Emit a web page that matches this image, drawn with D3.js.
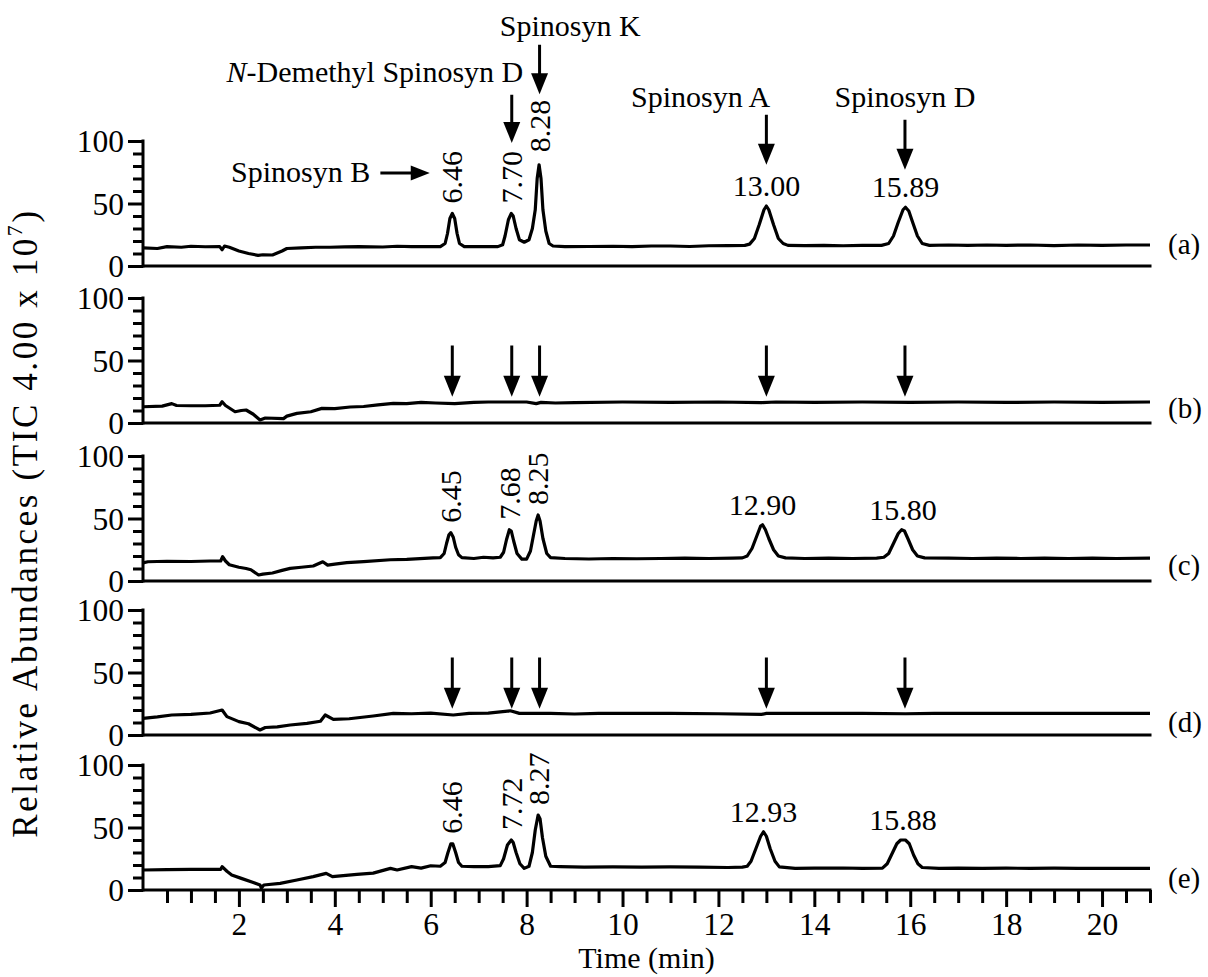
<!DOCTYPE html>
<html><head><meta charset="utf-8">
<script src="https://cdn.jsdelivr.net/npm/d3@7"></script>
<style>
body{margin:0;background:#fff}
text{font-family:"Liberation Serif","Times New Roman","DejaVu Serif",serif;fill:#000}
</style></head>
<body><svg id="chart" width="1208" height="977"></svg>
<script>
// ---------------- DATA ----------------
const panelNames = ["(a)", "(b)", "(c)", "(d)", "(e)"];
const xMajorTicks = [2, 4, 6, 8, 10, 12, 14, 16, 18, 20];
const yMajorTicks = [0, 50, 100];
const yMinorTicks = [10, 20, 30, 40, 60, 70, 80, 90];
const xTitle = "Time (min)";
const yTitle = "Relative Abundances (TIC 4.00 x 10";
const yTitleExp = "7";

// [time (min), relative abundance]
const traceA = [[0,14.5],[0.3,14],[0.5,15.5],[0.8,15],[1.0,15.8],[1.3,15.4],[1.6,15.5],[1.65,13],[1.7,16],[1.8,15],[2.0,12],[2.2,10],[2.4,8.5],[2.5,9],[2.7,8.8],[2.9,12],[3.0,14],[3.3,14.5],[3.6,15],[3.9,15],[4.2,15.3],[4.5,15.5],[5.0,15.2],[5.3,15.8],[5.6,15.5],[6.0,15.5],[6.2,15.5],[6.3,18],[6.35,26],[6.4,38],[6.45,42],[6.5,38],[6.55,26],[6.6,18],[6.7,15.5],[6.9,15.5],[7.2,15.5],[7.4,15.5],[7.5,17],[7.55,24],[7.62,37],[7.68,42],[7.72,40],[7.78,30],[7.85,21],[7.95,19],[8.05,21],[8.12,30],[8.18,45],[8.22,70],[8.26,81],[8.3,70],[8.34,45],[8.4,28],[8.47,18],[8.55,16],[8.8,15.5],[9.3,15.6],[9.8,15.8],[10.2,15.5],[10.6,16],[11.0,16],[11.4,15.6],[11.8,16.2],[12.2,16.3],[12.55,16.5],[12.65,17.5],[12.75,22],[12.85,33],[12.95,45],[13.0,48],[13.05,45],[13.15,33],[13.25,22],[13.35,18],[13.45,16.5],[13.8,16.3],[14.2,16.5],[14.6,16.2],[15.0,16.5],[15.4,16.5],[15.55,18],[15.65,24],[15.75,35],[15.85,45],[15.9,47],[15.97,44],[16.05,35],[16.15,24],[16.25,18],[16.4,16.5],[16.8,16.8],[17.2,16.5],[17.6,16.8],[18.0,16.5],[18.5,16.8],[19.0,16.3],[19.5,16.8],[20.0,16.5],[20.5,16.8],[21.0,16.8]];
const traceB = [[0,13],[0.4,13.5],[0.6,15.5],[0.7,14],[1.0,13.8],[1.3,13.8],[1.6,14.2],[1.65,17],[1.72,14],[1.8,12],[1.92,9],[2.05,10],[2.15,10.4],[2.3,7],[2.44,2.4],[2.55,4],[2.93,3.5],[3.0,5.5],[3.21,7.7],[3.5,9],[3.73,11.7],[4.0,11.5],[4.32,12.8],[4.6,13.2],[4.9,14.5],[5.22,15.7],[5.5,15.5],[5.8,16.5],[6.1,16],[6.5,15.5],[6.9,16.5],[7.2,16.8],[8.0,16.8],[8.2,15.5],[8.3,16.5],[8.6,16],[9.0,16.3],[10.0,16.8],[11.0,16.5],[12.0,16.8],[12.9,16.3],[13.2,16.8],[14.0,16.5],[15.0,16.8],[16.0,16.5],[17.0,16.8],[18.0,16.5],[19.0,16.8],[20.0,16.5],[21.0,16.8]];
const traceC = [[0,14.5],[0.1,15.4],[0.5,15.8],[1.0,15.6],[1.4,16],[1.62,16],[1.66,19.4],[1.72,16],[1.8,13],[2.0,11],[2.15,10],[2.25,9],[2.41,4.8],[2.5,5.5],[2.7,6.4],[2.9,8.5],[3.07,10.1],[3.3,11],[3.55,12],[3.75,15.4],[3.85,12.7],[4.0,13.5],[4.25,14.7],[4.6,15.5],[5.16,17],[5.5,17.3],[6.05,18.5],[6.2,18.7],[6.28,22],[6.33,30],[6.38,37],[6.42,38.7],[6.47,35],[6.52,27],[6.58,21],[6.65,18.7],[6.9,18],[7.1,19],[7.3,18.5],[7.45,19],[7.52,23],[7.58,33],[7.64,41],[7.68,40],[7.73,32],[7.8,22],[7.9,17.5],[8.0,17.5],[8.08,24],[8.14,36],[8.2,48],[8.24,52.8],[8.28,48],[8.34,34],[8.42,22],[8.5,18.7],[8.8,18],[9.3,17.6],[9.8,18],[10.3,17.8],[10.8,18],[11.3,18.3],[11.8,18],[12.3,18.3],[12.5,18.5],[12.6,20],[12.7,26],[12.8,36],[12.88,44],[12.92,45],[12.98,41],[13.05,34],[13.15,25],[13.25,20],[13.4,18.5],[13.8,18],[14.3,18.3],[14.8,18],[15.3,18.3],[15.45,19],[15.55,22],[15.65,30],[15.75,38],[15.82,41],[15.88,40],[15.95,34],[16.05,25],[16.15,20],[16.3,18.5],[16.8,18.3],[17.3,18],[17.8,18.3],[18.3,18],[18.8,18.3],[19.3,18],[19.8,18.3],[20.3,18],[21.0,18.3]];
const traceD = [[0,13.3],[0.3,14.5],[0.6,16],[1.0,16.5],[1.4,17.6],[1.65,20],[1.75,14.7],[2.0,10.7],[2.2,9],[2.44,4],[2.55,6],[2.8,6.5],[3.07,8],[3.42,9.3],[3.7,11],[3.8,16],[3.97,12.5],[4.3,13],[4.8,15.2],[5.22,17.3],[5.6,17],[6.0,17.5],[6.47,16],[6.8,17.3],[7.2,17.5],[7.66,19.4],[7.85,17.3],[8.5,17.3],[9.0,16.8],[9.5,17.3],[10.0,17.3],[11.0,17.3],[12.0,17],[12.9,16.5],[13.0,17.3],[14.0,17.3],[15.0,17.3],[15.9,17],[16.5,17.3],[17.0,17.3],[18.0,17.3],[19.0,17.3],[20.0,17.3],[21.0,17.3]];
const traceE = [[0,16],[0.5,16.3],[1.0,16.5],[1.62,16.5],[1.65,18.7],[1.75,15],[1.85,12],[2.05,9.3],[2.3,6],[2.44,4],[2.47,1.6],[2.52,4],[2.86,5.3],[3.21,8],[3.55,10.7],[3.82,13.3],[3.95,10.7],[4.46,12.5],[4.8,13.5],[5.16,17.3],[5.3,16],[5.6,18.7],[5.8,17.5],[6.0,19.4],[6.2,19],[6.3,22],[6.36,30],[6.42,37],[6.46,37],[6.52,30],[6.58,22],[6.65,19],[6.9,18.7],[7.2,18.7],[7.45,19.5],[7.52,25],[7.6,36],[7.68,40],[7.72,38],[7.78,30],[7.86,21],[7.95,17.3],[8.05,19],[8.12,30],[8.18,48],[8.24,60],[8.28,57],[8.33,42],[8.4,27],[8.5,19],[8.7,18.7],[9.2,18.3],[9.8,18.5],[10.4,18.3],[11.0,18.5],[11.6,18.3],[12.2,18],[12.5,18.3],[12.6,19],[12.68,23],[12.78,33],[12.88,43],[12.94,46.6],[13.0,43],[13.08,33],[13.18,23],[13.27,18.5],[13.6,17.3],[14.0,17.5],[14.6,17.6],[15.0,17.3],[15.42,17.5],[15.52,21],[15.62,29],[15.72,37],[15.8,40],[15.9,40],[15.98,37],[16.07,28],[16.16,21],[16.25,18],[16.6,17.3],[17.0,17.5],[17.5,17.3],[18.0,17.5],[18.5,17.3],[19.0,17.5],[19.5,17.3],[20.0,17.3],[21.0,17.3]];
const traces = [traceA, traceB, traceC, traceD, traceE];

// peak labels: [time, peak height, text, rotated]
const labelsA = [[6.45, 42, "6.46", true], [7.69, 42, "7.70", true], [8.27, 83, "8.28", true], [13.0, 48, "13.00", false], [15.9, 47, "15.89", false]];
const labelsC = [[6.42, 38.7, "6.45", true], [7.66, 41, "7.68", true], [8.24, 52.8, "8.25", true], [12.92, 45, "12.90", false], [15.85, 41, "15.80", false]];
const labelsE = [[6.44, 37, "6.46", true], [7.69, 40, "7.72", true], [8.25, 60, "8.27", true], [12.94, 46.6, "12.93", false], [15.85, 40, "15.88", false]];
const peakLabels = [labelsA, [], labelsC, [], labelsE];

// compound names and their retention-time markers
const compoundNames = ["Spinosyn B", "N-Demethyl Spinosyn D", "Spinosyn K", "Spinosyn A", "Spinosyn D"];
const compoundTimes = [6.45, 7.69, 8.27, 13.0, 15.89];
const missingPanels = [1, 3];   // (b) and (d): arrows only

// ---------------- LAYOUT ----------------
const svg = d3.select("#chart");
const panelZero = [266, 423, 581, 735, 890];
const panelLabelOffset = [22, 15, 16, 13, 12];
const panelH = 125;
const x = d3.scaleLinear().domain([0, 21]).range([143, 1150]);
const FS = 30, TFS = 31.5;

const line = d3.line().x(d => x(d[0]));

function arrowDown(g, px, y1, y2) {
  const hl = 21, hw = 8.5;
  g.append("line").attr("x1", px).attr("x2", px).attr("y1", y1).attr("y2", y2 - hl + 2)
    .attr("stroke", "#000").attr("stroke-width", 3);
  g.append("path").attr("d", `M${px - hw},${y2 - hl}L${px + hw},${y2 - hl}L${px},${y2}Z`).attr("fill", "#000");
}
function arrowRight(g, x1, x2, py) {
  const hl = 19, hw = 7.5;
  g.append("line").attr("x1", x1).attr("x2", x2 - hl + 2).attr("y1", py).attr("y2", py)
    .attr("stroke", "#000").attr("stroke-width", 3);
  g.append("path").attr("d", `M${x2 - hl},${py - hw}L${x2 - hl},${py + hw}L${x2},${py}Z`).attr("fill", "#000");
}

panelNames.forEach((name, i) => {
  const z = panelZero[i];
  const y = d3.scaleLinear().domain([0, 100]).range([z, z - panelH]);
  const g = svg.append("g");

  // y axis: minor ticks
  g.append("g").attr("transform", `translate(${x(0)},0)`)
    .call(d3.axisLeft(y).tickValues(yMinorTicks).tickSize(10).tickFormat(""))
    .call(a => a.select(".domain").remove())
    .call(a => a.selectAll("line").attr("stroke-width", 3));
  // y axis: major ticks + labels
  g.append("g").attr("transform", `translate(${x(0)},0)`)
    .call(d3.axisLeft(y).tickValues(yMajorTicks).tickSize(15).tickPadding(4).tickFormat(d3.format("d")))
    .call(a => a.select(".domain").remove())
    .call(a => a.selectAll("line").attr("stroke-width", 3))
    .call(a => a.selectAll("text").attr("font-size", TFS).attr("font-family", "Liberation Serif").attr("dy", "0.34em"));
  g.append("line").attr("x1", x(0)).attr("x2", x(0)).attr("y1", y(100) - 1.5).attr("y2", y(0) + 1.5)
    .attr("stroke", "#000").attr("stroke-width", 3);

  // zero line / x axis
  if (i === panelNames.length - 1) {
    const minor = d3.range(0.5, 21.01, 0.5).filter(t => !xMajorTicks.includes(t));
    g.append("g").attr("transform", `translate(0,${z})`)
      .call(d3.axisBottom(x).tickValues(minor).tickSize(13).tickFormat(""))
      .call(a => a.select(".domain").remove())
      .call(a => a.selectAll("line").attr("stroke-width", 3));
    g.append("g").attr("transform", `translate(0,${z})`)
      .call(d3.axisBottom(x).tickValues(xMajorTicks).tickSize(17).tickPadding(6).tickFormat(d3.format("d")))
      .call(a => a.select(".domain").remove())
      .call(a => a.selectAll("line").attr("stroke-width", 3))
      .call(a => a.selectAll("text").attr("font-size", TFS).attr("font-family", "Liberation Serif"));
  }
  g.append("line").attr("x1", x(0)).attr("x2", x(21) + 1.5).attr("y1", z).attr("y2", z)
    .attr("stroke", "#000").attr("stroke-width", 3);

  // trace
  g.append("path").datum(traces[i])
    .attr("d", line.y(d => y(d[1])))
    .attr("fill", "none").attr("stroke", "#000").attr("stroke-width", 3.2)
    .attr("stroke-linejoin", "round");

  // panel label
  g.append("text").attr("x", 1168).attr("y", z - panelLabelOffset[i]).attr("dy", "0.35em")
    .attr("font-size", FS - 1).text(name);

  // peak labels
  peakLabels[i].forEach(([t, v, txt, rot]) => {
    if (rot) {
      g.append("text").attr("transform", `translate(${x(t) + 10},${y(v) - 10}) rotate(-90)`)
        .attr("font-size", FS).text(txt);
    } else {
      g.append("text").attr("x", x(t)).attr("y", y(v) - 10).attr("text-anchor", "middle")
        .attr("font-size", FS).text(txt);
    }
  });

  // arrows in panels (b), (d)
  if (missingPanels.includes(i)) {
    compoundTimes.forEach(t => arrowDown(g, x(t), y(62), y(21)));
  }

  // compound annotations in panel (a)
  if (i === 0) {
    g.append("text").attr("x", x(4.74)).attr("y", y(67)).attr("text-anchor", "end")
      .attr("font-size", FS).text(compoundNames[0]);
    arrowRight(g, x(4.95), x(5.98), y(74.5));
    const t1 = g.append("text").attr("x", x(7.93)).attr("y", y(147)).attr("text-anchor", "end")
      .attr("font-size", FS);
    t1.append("tspan").attr("font-style", "italic").text(compoundNames[1].slice(0, 1));
    t1.append("tspan").text(compoundNames[1].slice(1));
    arrowDown(g, x(compoundTimes[1]), y(137), y(98.5));
    g.append("text").attr("x", x(8.91)).attr("y", y(184)).attr("text-anchor", "middle")
      .attr("font-size", FS).text(compoundNames[2]);
    arrowDown(g, x(compoundTimes[2]), y(177), y(137.5));
    g.append("text").attr("x", x(11.63)).attr("y", y(127)).attr("text-anchor", "middle")
      .attr("font-size", FS).text(compoundNames[3]);
    arrowDown(g, x(compoundTimes[3]), y(121), y(81));
    g.append("text").attr("x", x(15.89)).attr("y", y(127)).attr("text-anchor", "middle")
      .attr("font-size", FS).text(compoundNames[4]);
    arrowDown(g, x(compoundTimes[4]), y(117), y(77));
  }
});

// axis titles
svg.append("text").attr("x", x(10.5)).attr("y", 968).attr("text-anchor", "middle")
  .attr("font-size", FS).text(xTitle);
const yt = svg.append("text").attr("transform", `translate(37,523) rotate(-90)`)
  .attr("text-anchor", "middle").attr("font-size", 35).attr("letter-spacing", 2.6);
yt.append("tspan").text(yTitle);
yt.append("tspan").attr("font-size", 22).attr("dy", "-0.7em").text(yTitleExp);
yt.append("tspan").attr("dy", "0.45em").text(")");
</script></body></html>
